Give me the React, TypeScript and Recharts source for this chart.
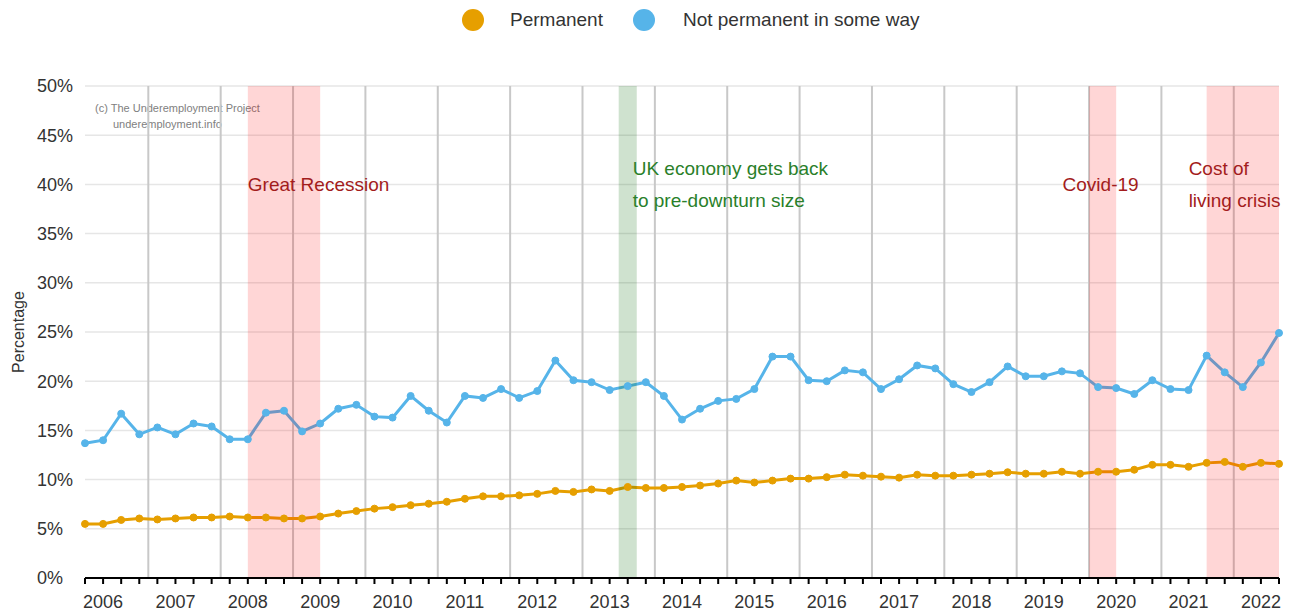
import React from "react"
import {
  CartesianGrid,
  Customized,
  Legend,
  Line,
  LineChart,
  ReferenceArea,
  ReferenceLine,
  XAxis,
  YAxis,
} from "recharts"

// quarterly shares (%), first point is the quarter before the 2006 label
const permanent = [
  5.5, 5.5, 5.9, 6.05, 5.95, 6.05, 6.15, 6.15, 6.25, 6.15, 6.15, 6.05, 6.05, 6.25, 6.55, 6.8,
  7.05, 7.2, 7.4, 7.55, 7.75, 8.05, 8.3, 8.3, 8.4, 8.55, 8.85, 8.75, 9.0, 8.85, 9.25, 9.15,
  9.15, 9.25, 9.4, 9.6, 9.9, 9.7, 9.9, 10.1, 10.1, 10.25, 10.5, 10.4, 10.3, 10.2, 10.5, 10.4,
  10.4, 10.5, 10.6, 10.75, 10.6, 10.6, 10.8, 10.6, 10.8, 10.8, 11.0, 11.5, 11.5, 11.3, 11.7, 11.8,
  11.3, 11.7, 11.6,
]
const notPermanent = [
  13.7, 14.0, 16.7, 14.6, 15.3, 14.6, 15.7, 15.4, 14.1, 14.1, 16.8, 17.0, 14.9, 15.7, 17.2, 17.6,
  16.4, 16.3, 18.5, 17.0, 15.8, 18.5, 18.3, 19.2, 18.3, 19.0, 22.1, 20.1, 19.9, 19.1, 19.5, 19.9,
  18.5, 16.1, 17.2, 18.0, 18.2, 19.2, 22.5, 22.5, 20.1, 20.0, 21.1, 20.9, 19.2, 20.2, 21.6, 21.3,
  19.7, 18.9, 19.9, 21.5, 20.5, 20.5, 21.0, 20.8, 19.4, 19.3, 18.7, 20.1, 19.2, 19.1, 22.6, 20.9,
  19.4, 21.9, 24.9,
]
const yearLabels = [
  "2006", "2007", "2008", "2009", "2010", "2011", "2012", "2013", "2014",
  "2015", "2016", "2017", "2018", "2019", "2020", "2021", "2022",
]
const yTicks = [0, 5, 10, 15, 20, 25, 30, 35, 40, 45, 50]
// grey separators between years (quarter index)
const dividers = [3.5, 7.5, 11.5, 15.5, 19.5, 23.5, 27.5, 31.5, 35.5, 39.5, 43.5, 47.5, 51.5, 55.5, 59.5, 63.5]

const data = permanent.map((p, i) => ({ q: i, permanent: p, notPermanent: notPermanent[i] }))
const quarterTicks = data.map((d) => d.q)

const FONT = "'Liberation Sans', Arial, sans-serif"
const ORANGE = "#E69F00"
const BLUE = "#56B4E9"
const RED_TEXT = "#a31c1c"
const GREEN_TEXT = "#2a7f2a"

function yearTick(v: number) {
  if ((v - 1) % 4 !== 0) return ""
  return yearLabels[(v - 1) / 4] ?? ""
}

function YTick(props: any) {
  const { y, payload } = props
  return (
    <text x={29} y={y} dy="0.36em" textAnchor="start" fontSize={18} fill="#333" fontFamily={FONT}>
      {`${payload.value}%`}
    </text>
  )
}

function YLabel(props: any) {
  const vb = props.viewBox || { x: 0, y: 0, height: 0 }
  const cx = vb.x + 10
  const cy = vb.y + vb.height / 2
  return (
    <text
      x={cx}
      y={cy}
      transform={`rotate(-90 ${cx} ${cy})`}
      textAnchor="middle"
      dominantBaseline="central"
      fontSize={16}
      fill="#333"
      fontFamily={FONT}
    >
      Percentage
    </text>
  )
}

// annotation text for a shaded period, lines centred on the 40% level
function annotation(lines: string[], color: string, dx: number, anchor: "start" | "middle") {
  return (props: any) => {
    const vb = props.viewBox
    if (!vb) return null
    const x = anchor === "middle" ? vb.x + vb.width / 2 + dx : vb.x + dx
    const yc = vb.y + vb.height * 0.2
    const start = yc - ((lines.length - 1) * 32) / 2
    return (
      <g>
        {lines.map((t, i) => (
          <text
            key={t}
            x={x}
            y={start + i * 32}
            dy="0.36em"
            textAnchor={anchor}
            fontSize={19}
            fill={color}
            fontFamily={FONT}
          >
            {t}
          </text>
        ))}
      </g>
    )
  }
}

function LegendContent() {
  const item = (color: string, label: string, gap: number, textGap: number) => (
    <div style={{ display: "flex", alignItems: "center", marginLeft: gap, height: 22 }}>
      <span style={{ width: 22, height: 22, borderRadius: 11, background: color, display: "inline-block" }} />
      <span style={{ marginLeft: textGap, fontSize: 19, color: "#333", lineHeight: "22px" }}>{label}</span>
    </div>
  )
  return (
    <div
      style={{
        display: "flex",
        alignItems: "flex-start",
        height: 40,
        paddingTop: 1,
        boxSizing: "border-box",
        paddingLeft: 454,
        fontFamily: FONT,
      }}
    >
      {item(ORANGE, "Permanent", 0, 26)}
      {item(BLUE, "Not permanent in some way", 30, 28)}
    </div>
  )
}

function Copyright() {
  return (
    <g fontFamily={FONT} fontSize={11} fill="#808080">
      <text x={87} y={104}>(c) The Underemployment Project</text>
      <text x={105} y={120}>underemployment.info</text>
    </g>
  )
}

export default function App() {
  return (
    <LineChart
      width={1284}
      height={604}
      data={data}
      margin={{ top: 38, right: 13, bottom: 0, left: 0 }}
      style={{ fontFamily: FONT }}
    >
      <CartesianGrid vertical={false} stroke="#e6e6e6" strokeWidth={1.5} />
      <XAxis
        dataKey="q"
        type="number"
        domain={[0, 66]}
        ticks={quarterTicks}
        interval={0}
        tickFormatter={yearTick}
        height={34}
        axisLine={{ stroke: "#000", strokeWidth: 2 }}
        tickLine={{ stroke: "#000", strokeWidth: 2 }}
        tickSize={6}
        tickMargin={11}
        tick={{ fontSize: 18, fill: "#333", fontFamily: FONT }}
      />
      <YAxis
        domain={[0, 50]}
        ticks={yTicks}
        width={77}
        axisLine={false}
        tickLine={false}
        tick={<YTick />}
        label={{ content: YLabel }}
      />
      <Legend verticalAlign="top" wrapperStyle={{ top: 0, left: 0, width: 1284, height: 40 }} content={LegendContent} />
      {dividers.map((d) => (
        <ReferenceLine key={d} x={d} stroke="#c8c8c8" strokeWidth={2} zIndex={50} />
      ))}
      <Line
        dataKey="permanent"
        name="Permanent"
        stroke={ORANGE}
        strokeWidth={3}
        dot={{ r: 3.5, fill: ORANGE, stroke: ORANGE, strokeWidth: 1 }}
        isAnimationActive={false}
      />
      <Line
        dataKey="notPermanent"
        name="Not permanent in some way"
        stroke={BLUE}
        strokeWidth={3}
        dot={{ r: 3.5, fill: BLUE, stroke: BLUE, strokeWidth: 1 }}
        isAnimationActive={false}
      />
      <ReferenceArea
        x1={9}
        x2={13}
        y1={0}
        y2={50}
        fill="#ff0000"
        fillOpacity={0.16}
        stroke="none"
        zIndex={450}
        label={{ content: annotation(["Great Recession"], RED_TEXT, 0, "start") }}
      />
      <ReferenceArea
        x1={29.5}
        x2={30.5}
        y1={0}
        y2={50}
        fill="#006400"
        fillOpacity={0.19}
        stroke="none"
        zIndex={450}
        label={{ content: annotation(["UK economy gets back", "to pre-downturn size"], GREEN_TEXT, 14, "start") }}
      />
      <ReferenceArea
        x1={55.5}
        x2={57}
        y1={0}
        y2={50}
        fill="#ff0000"
        fillOpacity={0.16}
        stroke="none"
        zIndex={450}
        label={{ content: annotation(["Covid-19"], RED_TEXT, -2, "middle") }}
      />
      <ReferenceArea
        x1={62}
        x2={66}
        y1={0}
        y2={50}
        fill="#ff0000"
        fillOpacity={0.16}
        stroke="none"
        zIndex={450}
        label={{ content: annotation(["Cost of", "living crisis"], RED_TEXT, -18, "start") }}
      />
      <Customized component={Copyright} />
    </LineChart>
  )
}
